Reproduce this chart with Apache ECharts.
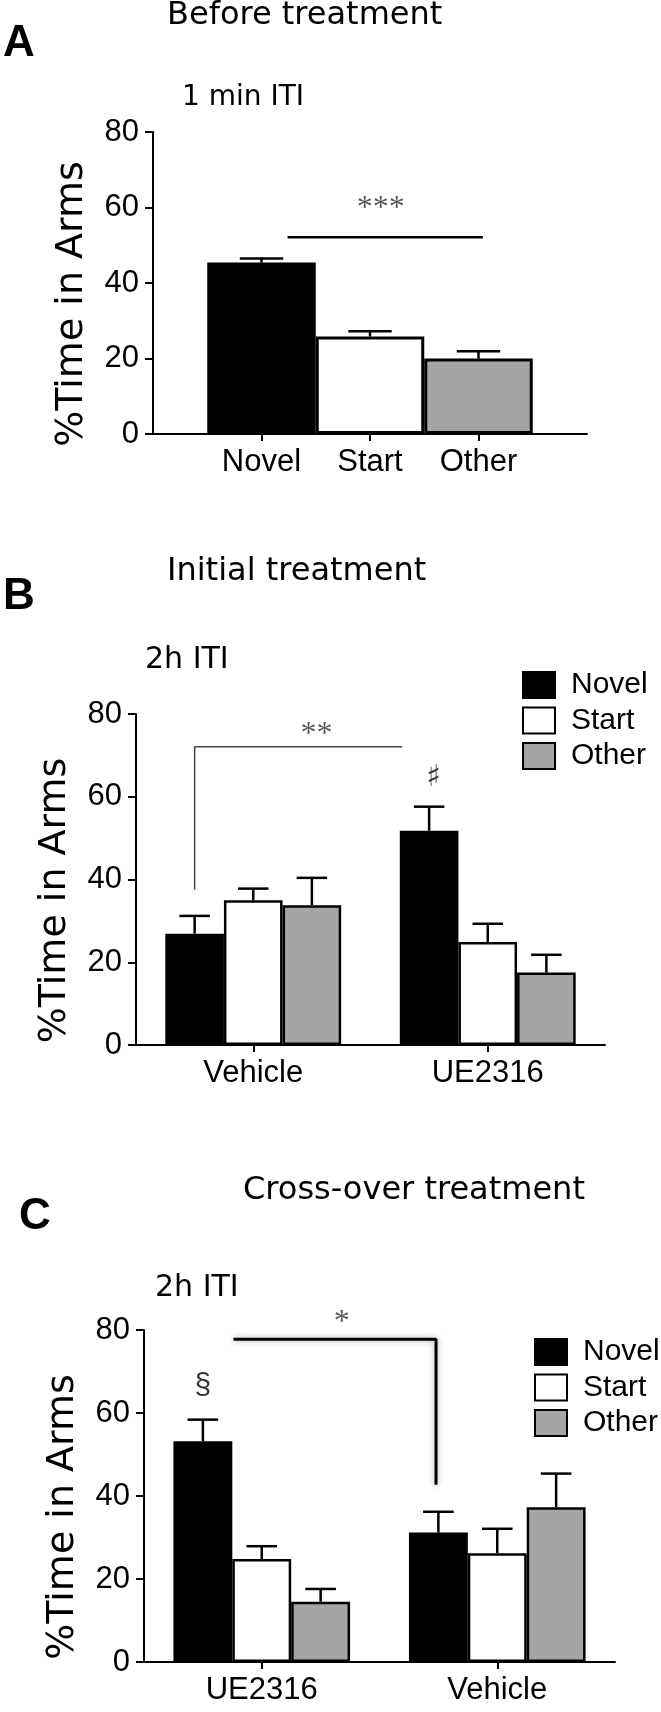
<!DOCTYPE html>
<html>
<head>
<meta charset="utf-8">
<title>Time in arms</title>
<script src="https://cdn.jsdelivr.net/npm/echarts@6.0.0/dist/echarts.min.js"></script>
<style>
  html, body { margin: 0; padding: 0; background: #fff; }
  #chart { width: 661px; height: 1712px; }
</style>
</head>
<body>
<div id="chart"></div>
<script>
// Panel A: before treatment, 1 min ITI
const armsA = ['Novel', 'Start', 'Other'];
const meanA = [45.4, 25.8, 20.0];
const semA = [1.1, 1.4, 1.9];

// Panel B: initial treatment, 2h ITI
const groupsB = ['Vehicle', 'UE2316'];
const novelB = [26.9, 51.8];
const startB = [35.0, 24.9];
const otherB = [33.8, 17.5];
const novelSemB = [4.3, 5.8];
const startSemB = [2.8, 4.4];
const otherSemB = [6.6, 4.3];

// Panel C: cross-over treatment, 2h ITI
const groupsC = ['UE2316', 'Vehicle'];
const novelC = [53.2, 31.2];
const startC = [24.8, 26.2];
const otherC = [14.5, 37.3];
const novelSemC = [5.2, 5.0];
const startSemC = [3.1, 5.9];
const otherSemC = [3.1, 8.1];

const yTicks = [0, 20, 40, 60, 80];

// significance marks; x is in category units along the axis
const bracketA = [[1.24, 52.1], [3.04, 52.1]];
const marksA = [[2.1, 62.0, '***']];
const bracketB = [[0.25, 37.5], [0.25, 72.1], [1.135, 72.1]];
const marksB = [[0.77, 77.3, '**'], [1.27, 64.6, '♯']];
const bracketC = [[0.38, 77.8], [1.24, 77.8], [1.24, 42.7]];
const marksC = [[0.84, 83.9, '*'], [0.25, 66.5, '§']];

const SANS = "'Liberation Sans', Arial, sans-serif";
const DEJAVU = "'DejaVu Sans', sans-serif";
const SERIF = "'Liberation Serif', 'Times New Roman', serif";

const fills = { Novel: '#000000', Start: '#ffffff', Other: '#a5a5a5' };

const chart = echarts.init(document.getElementById('chart'));

function yAxisFor(gridIndex) {
  return {
    type: 'value',
    gridIndex,
    min: yTicks[0],
    max: yTicks[yTicks.length - 1],
    interval: yTicks[1] - yTicks[0],
    name: '%Time in Arms',
    nameLocation: 'middle',
    nameGap: 62,
    // right padding pushes the rotated name a little below the axis middle, as in the figure
    nameTextStyle: { fontFamily: DEJAVU, fontSize: 38, color: '#000', padding: [0, 42, 0, 0] },
    axisLine: { show: true, lineStyle: { color: '#000', width: 2 } },
    axisTick: { show: true, length: 8, lineStyle: { color: '#000', width: 2 } },
    axisLabel: { fontFamily: SANS, fontSize: 31, color: '#000', margin: 14 },
    splitLine: { show: false }
  };
}

function catAxis(gridIndex, data, boundaryGap) {
  return {
    type: 'category',
    gridIndex,
    data,
    boundaryGap,
    axisLine: { show: true, lineStyle: { color: '#000', width: 2 } },
    axisTick: {
      show: true,
      length: 7,
      alignWithLabel: true,
      interval: (i, v) => v !== '',
      lineStyle: { color: '#000', width: 2 }
    },
    axisLabel: { interval: 0, fontFamily: SANS, fontSize: 31, color: '#000', margin: 13 },
    splitLine: { show: false }
  };
}

// hidden value axis laid over each grid, used for the significance marks
function markAxis(gridIndex, max) {
  return { type: 'value', gridIndex, min: 0, max, show: false };
}

// error bar (upper half only) drawn through the axes of the grid
function errorSeries(xAxisIndex, yAxisIndex, data, offset, barFrac, capFrac) {
  return {
    type: 'custom',
    xAxisIndex,
    yAxisIndex,
    z: 5,
    silent: true,
    data,
    renderItem: (params, api) => {
      const ci = api.value(0);
      const mean = api.value(1);
      const sem = api.value(2);
      const bw = api.size([1, 0])[0] * barFrac;
      const p0 = api.coord([ci, mean]);
      const p1 = api.coord([ci, mean + sem]);
      const x = p0[0] + offset * bw;
      const half = bw * capFrac / 2;
      const style = { stroke: '#000', lineWidth: 2.5 };
      return {
        type: 'group',
        children: [
          { type: 'line', shape: { x1: x, y1: p0[1], x2: x, y2: p1[1] }, style },
          { type: 'line', shape: { x1: x - half, y1: p1[1], x2: x + half, y2: p1[1] }, style }
        ]
      };
    }
  };
}

function bracketSeries(xAxisIndex, yAxisIndex, data, lineStyle) {
  return {
    type: 'line',
    xAxisIndex,
    yAxisIndex,
    data,
    symbol: 'none',
    silent: true,
    clip: false,
    z: 6,
    lineStyle
  };
}

const markFonts = {
  '*': { fontFamily: SERIF, fontSize: 32, color: '#333', offset: [0, 9] },
  '**': { fontFamily: SERIF, fontSize: 32, color: '#333', offset: [0, 9] },
  '***': { fontFamily: SERIF, fontSize: 32, color: '#333', offset: [0, 9] },
  '♯': { fontFamily: DEJAVU, fontSize: 30, color: '#000', offset: [0, 0] },
  '§': { fontFamily: SANS, fontSize: 30, color: '#000', offset: [0, 0] }
};

function markSeries(xAxisIndex, yAxisIndex, marks) {
  return {
    type: 'scatter',
    xAxisIndex,
    yAxisIndex,
    symbolSize: 1,
    itemStyle: { color: 'transparent' },
    silent: true,
    clip: false,
    z: 7,
    data: marks.map(m => ({
      value: [m[0], m[1]],
      name: m[2],
      label: Object.assign({ show: true, position: 'inside', formatter: '{b}' }, markFonts[m[2]])
    }))
  };
}

function groupedBars(xAxisIndex, yAxisIndex, arms, means) {
  return arms.map((arm, k) => ({
    type: 'bar',
    name: arm,
    xAxisIndex,
    yAxisIndex,
    barGap: '0%',
    barCategoryGap: '25%',
    data: means[k],
    itemStyle: { color: fills[arm], borderColor: '#000', borderWidth: 2.5 }
  }));
}

function groupedErrors(xAxisIndex, yAxisIndex, means, sems) {
  return means.map((m, k) =>
    errorSeries(xAxisIndex, yAxisIndex, m.map((v, i) => [i, v, sems[k][i]]), k - 1, 0.25, 0.52)
  );
}

// panel A category axis gets an empty slot at each end so the axis runs past the bars
const catsA = [''].concat(armsA, ['']);
const barsA = ['-'].concat(meanA.map((v, i) => ({ value: v, itemStyle: { color: fills[armsA[i]] } })), ['-']);
const errA = meanA.map((v, i) => [i + 1, v, semA[i]]);

const titleFont = { fontFamily: DEJAVU, fontSize: 32, fontWeight: 'normal', color: '#000' };
const letterFont = { fontFamily: SANS, fontSize: 44, fontWeight: 'bold', color: '#000' };
const itiFont = { fontFamily: DEJAVU, fontSize: 30, fontWeight: 'normal', color: '#000' };

const legendBase = {
  data: armsA,
  orient: 'vertical',
  padding: 0,
  itemWidth: 32,
  itemHeight: 26,
  itemGap: 5.5,
  icon: 'rect',
  selectedMode: false,
  textStyle: { fontFamily: SANS, fontSize: 30, color: '#000', lineHeight: 26, padding: [0, 0, 0, 11] }
};

const option = {
  backgroundColor: '#fff',
  animation: false,
  title: [
    { text: 'Before treatment', left: 167, top: 0, padding: 0, textStyle: titleFont },
    { text: 'A', left: 3, top: 22, padding: 0, textStyle: letterFont },
    { text: '1 min ITI', left: 182, top: 84, padding: 0, textStyle: Object.assign({}, itiFont, { fontSize: 28 }) },
    { text: 'Initial treatment', left: 167, top: 556, padding: 0, textStyle: titleFont },
    { text: 'B', left: 3, top: 575, padding: 0, textStyle: letterFont },
    { text: '2h ITI', left: 145, top: 645, padding: 0, textStyle: itiFont },
    { text: 'Cross-over treatment', left: 243, top: 1175, padding: 0, textStyle: titleFont },
    { text: 'C', left: 19, top: 1195, padding: 0, textStyle: letterFont },
    { text: '2h ITI', left: 155, top: 1273, padding: 0, textStyle: itiFont }
  ],
  legend: [
    Object.assign({}, legendBase, { left: 522, top: 670 }),
    Object.assign({}, legendBase, { left: 534, top: 1337 })
  ],
  grid: [
    { left: 153, right: 74, top: 132, bottom: 1278, outerBoundsMode: 'none' },
    { left: 136, right: 56, top: 714, bottom: 667, outerBoundsMode: 'none' },
    { left: 144, right: 46, top: 1330, bottom: 50, outerBoundsMode: 'none' }
  ],
  xAxis: [
    catAxis(0, catsA, false),
    markAxis(0, catsA.length - 1),
    catAxis(1, groupsB, true),
    markAxis(1, groupsB.length),
    catAxis(2, groupsC, true),
    markAxis(2, groupsC.length)
  ],
  yAxis: [yAxisFor(0), yAxisFor(1), yAxisFor(2)],
  series: [
    {
      type: 'bar',
      name: 'Arms',
      xAxisIndex: 0,
      yAxisIndex: 0,
      barCategoryGap: '0%',
      data: barsA,
      itemStyle: { borderColor: '#000', borderWidth: 3 }
    },
    errorSeries(0, 0, errA, 0, 1, 0.4),
    bracketSeries(1, 0, bracketA, { color: '#000', width: 2.5 }),
    markSeries(1, 0, marksA),

    ...groupedBars(2, 1, armsA, [novelB, startB, otherB]),
    ...groupedErrors(2, 1, [novelB, startB, otherB], [novelSemB, startSemB, otherSemB]),
    bracketSeries(3, 1, bracketB, { color: '#444', width: 1.5 }),
    markSeries(3, 1, marksB),

    ...groupedBars(4, 2, armsA, [novelC, startC, otherC]),
    ...groupedErrors(4, 2, [novelC, startC, otherC], [novelSemC, startSemC, otherSemC]),
    bracketSeries(5, 2, bracketC, { color: '#000', width: 3, shadowBlur: 6, shadowColor: 'rgba(0,0,0,0.35)' }),
    markSeries(5, 2, marksC)
  ]
};

chart.setOption(option);

window.addEventListener('resize', () => chart.resize());
</script>
</body>
</html>
